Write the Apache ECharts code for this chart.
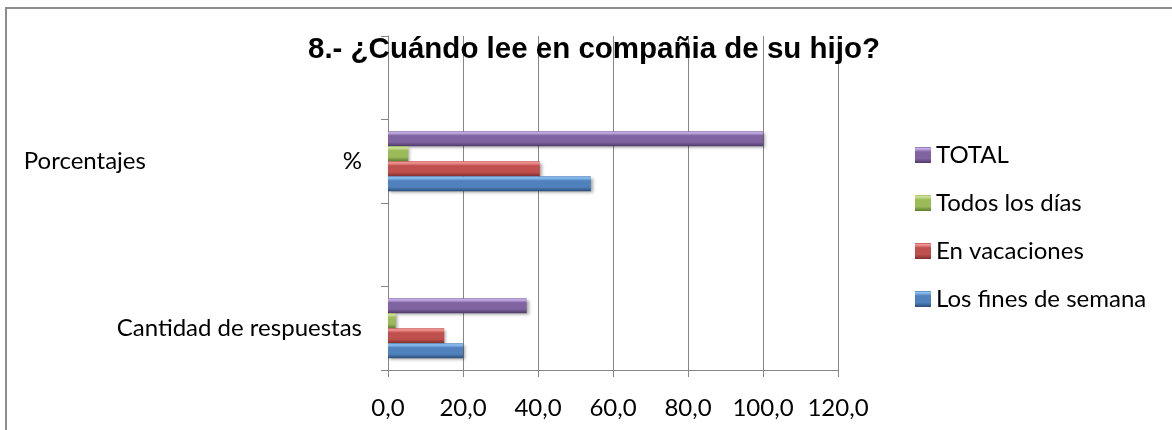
<!DOCTYPE html>
<html>
<head>
<meta charset="utf-8">
<script src="https://cdn.jsdelivr.net/npm/echarts@6/dist/echarts.min.js"></script>
<style>
  html, body { margin: 0; padding: 0; background: #fff; }
  #chart { width: 1172px; height: 430px; }
</style>
</head>
<body>
<div id="chart"></div>
<script>
// categorias (de abajo hacia arriba), las vacias separan los grupos
var categorias = ['Cantidad de respuestas', '', 'Porcentajes %', ''];
var finesSemana = [20, null, 54.1, null];
var vacaciones  = [15, null, 40.5, null];
var todosDias   = [2, null, 5.4, null];
var total       = [37, null, 100, null];
var ejeX = { min: 0, max: 120, interval: 20 };

var fuente = 'Lato';

// degradado para imitar el bisel de Excel
function bisel(claro, medio, oscuro) {
  return new echarts.graphic.LinearGradient(0, 0, 0, 1, [
    { offset: 0, color: medio },
    { offset: 0.1, color: claro },
    { offset: 0.3, color: medio },
    { offset: 0.72, color: medio },
    { offset: 1, color: oscuro }
  ]);
}

function serie(nombre, datos, color) {
  return {
    name: nombre,
    type: 'bar',
    data: datos,
    barGap: '0%',
    barCategoryGap: '28%',
    itemStyle: {
      color: color,
      shadowColor: 'rgba(0,0,0,0.35)',
      shadowBlur: 3,
      shadowOffsetX: 2,
      shadowOffsetY: 2
    }
  };
}

var chart = echarts.init(document.getElementById('chart'));
chart.setOption({
  animation: false,
  title: {
    text: '8.- ¿Cuándo lee en compañia de su hijo?',
    left: 589,
    top: 30,
    textAlign: 'center',
    textStyle: { fontFamily: 'Liberation Sans', fontWeight: 'bold', fontSize: 29.5, color: '#000' }
  },
  legend: {
    orient: 'vertical',
    left: 910,
    top: 138,
    itemWidth: 16,
    itemHeight: 16,
    itemGap: 24,
    icon: 'rect',
    data: ['TOTAL', 'Todos los días', 'En vacaciones', 'Los fines de semana'],
    textStyle: { fontFamily: fuente, fontSize: 24, lineHeight: 24, color: '#000' }
  },
  grid: { left: 388, right: 334, top: 36, bottom: 60 },
  xAxis: {
    type: 'value',
    min: ejeX.min,
    max: ejeX.max,
    interval: ejeX.interval,
    axisLine: { show: true, lineStyle: { color: '#868686' } },
    axisTick: { show: true, length: 7, lineStyle: { color: '#868686' } },
    splitLine: { lineStyle: { color: '#868686' } },
    axisLabel: {
      margin: 26,
      fontFamily: fuente, fontSize: 24, color: '#000',
      formatter: function (v) { return v.toFixed(1).replace('.', ','); }
    }
  },
  yAxis: {
    type: 'category',
    data: categorias,
    axisLine: { show: true, lineStyle: { color: '#868686' } },
    axisTick: { show: true, length: 7, lineStyle: { color: '#868686' } },
    axisLabel: {
      margin: 26,
      fontFamily: fuente, fontSize: 24, color: '#000',
      formatter: function (v) {
        if (/ %$/.test(v)) return '{a|' + v.replace(/ %$/, '') + '}{b|%}';
        return v;
      },
      rich: {
        a: { fontFamily: fuente, fontSize: 24, color: '#000', width: 319, align: 'left' },
        b: { fontFamily: fuente, fontSize: 24, color: '#000' }
      }
    }
  },
  graphic: [{
    type: 'rect',
    shape: { x: 6, y: 8, width: 1300, height: 600 },
    style: { fill: 'none', stroke: '#8c8c8c', lineWidth: 2 },
    silent: true
  }],
  // la primera serie queda arriba en cada grupo
  series: [
    serie('TOTAL', total, bisel('#c9b3ea', '#8064a2', '#4e3a68')),
    serie('Todos los días', todosDias, bisel('#cfe59a', '#9bbb59', '#5f7a2e')),
    serie('En vacaciones', vacaciones, bisel('#f49a98', '#c0504d', '#7f2f2d')),
    serie('Los fines de semana', finesSemana, bisel('#8fc3f5', '#4f81bd', '#2c4d75'))
  ]
});
</script>
</body>
</html>
